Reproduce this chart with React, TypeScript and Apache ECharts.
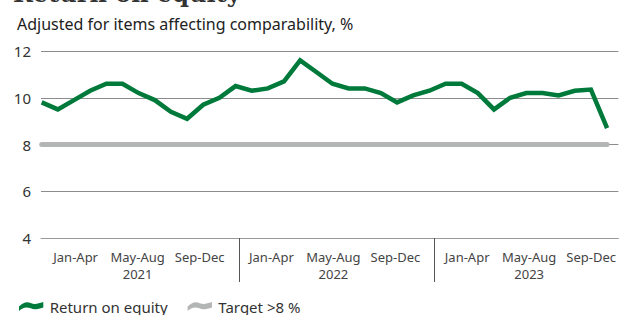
import React, { useEffect, useRef } from "react";
import * as echarts from "echarts";

// ---- data ----
const months: string[] = [];
const years = ["2021", "2022", "2023"];
const monthNames = ["Jan", "Feb", "Mar", "Apr", "May", "Jun", "Jul", "Aug", "Sep", "Oct", "Nov", "Dec"];
years.forEach((y) => monthNames.forEach((m) => months.push(`${m} ${y}`)));

const roe = [
  9.8, 9.5, 9.9, 10.3, 10.6, 10.6, 10.2, 9.9, 9.4, 9.1, 9.7, 10.0,
  10.5, 10.3, 10.4, 10.7, 11.6, 11.1, 10.6, 10.4, 10.4, 10.2, 9.8, 10.1,
  10.3, 10.6, 10.6, 10.2, 9.5, 10.0, 10.2, 10.2, 10.1, 10.3, 10.35, 8.7,
];
const target = months.map(() => 8);
const periodLabels = ["Jan-Apr", "May-Aug", "Sep-Dec"];
const yTicks = [4, 6, 8, 10, 12];

const FONT = "'Noto Sans', sans-serif";
const GREEN = "#007a3a";
const GRAY = "#b4b6b6";
const ICON = "path://M0,6 C4,2 8,0 13,2 C17,4 21,3 27,1 L27,7 C21,9 17,10 13,8 C8,6 4,7 0,11 Z";

export default function App() {
  const ref = useRef<HTMLDivElement>(null);
  useEffect(() => {
    if (!ref.current) return;
    const chart = echarts.init(ref.current, null, { renderer: "svg" });

    const periodOffsets = [2.0, 5.8, 9.6];
    const periodValues: number[] = [];
    const periodText: Record<string, string> = {};
    years.forEach((_, k) =>
      periodOffsets.forEach((o, j) => {
        const v = +(12 * k + o).toFixed(2);
        periodValues.push(v);
        periodText[String(v)] = periodLabels[j];
      })
    );
    const yearValues: number[] = [];
    const yearText: Record<string, string> = {};
    years.forEach((y, k) => {
      const v = +(12 * k + 5.8).toFixed(2);
      yearValues.push(v);
      yearText[String(v)] = y;
    });
    const sepValues = years.slice(1).map((_, k) => 12 * (k + 1));

    const labelMin = -0.122;
    const labelMax = 35.27;

    chart.setOption({
      animation: false,
      title: [
        {
          text: "Return on equity",
          left: 8,
          top: -24,
          textStyle: { fontFamily: "'DejaVu Serif', serif", fontWeight: "bold", fontSize: 24, color: "#333" },
        },
        {
          text: "Adjusted for items affecting comparability, %",
          left: 12,
          top: 11,
          textStyle: { fontFamily: FONT, fontWeight: "normal", fontSize: 16, color: "#222" },
        },
      ],
      legend: {
        left: 14,
        top: 294,
        itemWidth: 27,
        itemHeight: 9,
        itemGap: 20,
        textStyle: { fontFamily: FONT, fontSize: 15, color: "#333" },
        data: [
          { name: "Return on equity", icon: ICON },
          { name: "Target >8 %", icon: ICON },
        ],
      },
      grid: { left: 41, right: 0, top: 51, bottom: 77 },
      xAxis: [
        { type: "value", min: -0.043, max: 35.7, show: false },
        {
          type: "value",
          min: labelMin,
          max: labelMax,
          position: "bottom",
          axisLine: { show: true, lineStyle: { color: "#999", width: 1 } },
          axisTick: { show: true, customValues: sepValues, length: 44, lineStyle: { color: "#555" } },
          axisLabel: {
            customValues: periodValues,
            formatter: (v: number) => periodText[String(+v.toFixed(2))] ?? "",
            margin: 12,
            fontFamily: FONT,
            fontSize: 13,
            color: "#444",
          },
          splitLine: { show: false },
        },
        {
          type: "value",
          min: labelMin,
          max: labelMax,
          position: "bottom",
          axisLine: { show: false },
          axisTick: { show: false },
          axisLabel: {
            customValues: yearValues,
            formatter: (v: number) => yearText[String(+v.toFixed(2))] ?? "",
            margin: 29,
            fontFamily: FONT,
            fontSize: 13,
            color: "#444",
          },
          splitLine: { show: false },
        },
      ],
      yAxis: {
        type: "value",
        min: yTicks[0],
        max: yTicks[yTicks.length - 1],
        interval: 2,
        axisLine: { show: false },
        axisTick: { show: false },
        axisLabel: { fontFamily: FONT, fontSize: 15, color: "#333", margin: 10 },
        splitLine: { lineStyle: { color: "#8c8c8c", width: 1 } },
      },
      series: [
        {
          name: "Target >8 %",
          type: "line",
          xAxisIndex: 0,
          data: target.map((v, i) => [i, v]),
          symbol: "none",
          lineStyle: { color: GRAY, width: 5, cap: "round" },
          itemStyle: { color: GRAY },
          z: 2,
        },
        {
          name: "Return on equity",
          type: "line",
          xAxisIndex: 0,
          data: roe.map((v, i) => [i, v]),
          symbol: "none",
          lineStyle: { color: GREEN, width: 4.5, join: "miter" },
          itemStyle: { color: GREEN },
          z: 3,
        },
      ],
    });
    return () => chart.dispose();
  }, []);
  return <div ref={ref} style={{ position: "absolute", left: 0, top: 0, width: 619, height: 315 }} />;
}
